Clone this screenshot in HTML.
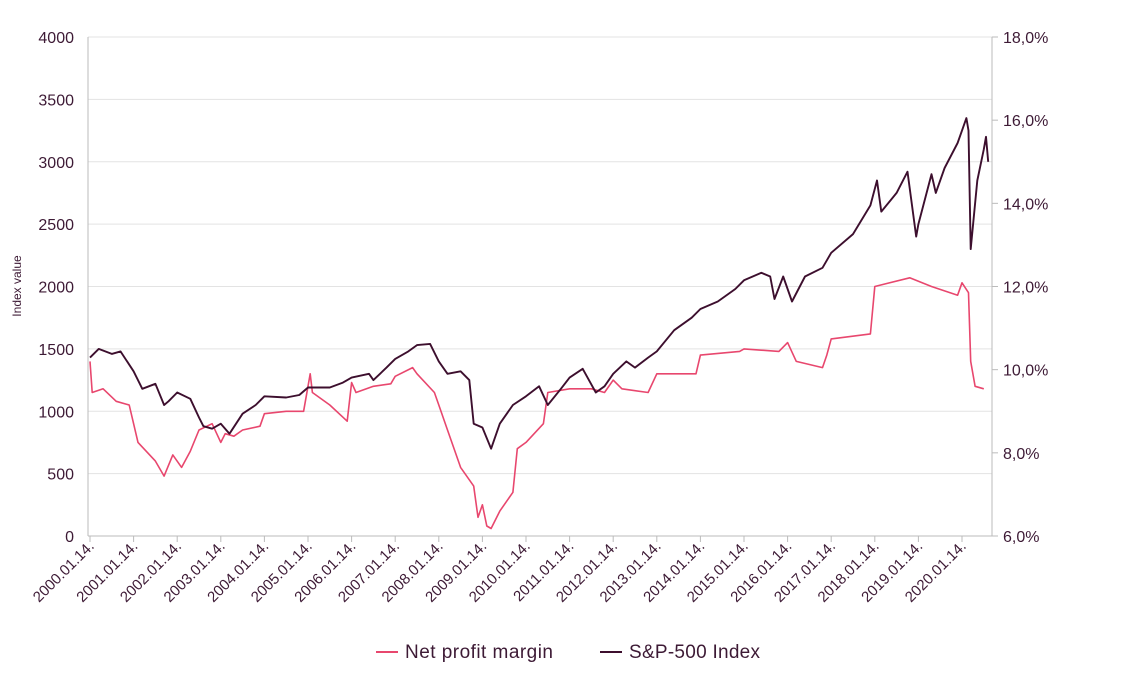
<!DOCTYPE html>
<html><head><meta charset="utf-8"><style>
body{margin:0;background:#fff;}
svg{display:block;font-family:"Liberation Sans",sans-serif;}
</style></head><body>
<svg id="c" width="1134" height="682"></svg>
<script>
const spDates=[2000.0,2000.2,2000.5,2000.7,2001.0,2001.2,2001.5,2001.7,2001.8,2002.0,2002.3,2002.5,2002.6,2002.8,2003.0,2003.2,2003.5,2003.8,2004.0,2004.5,2004.8,2005.0,2005.5,2005.8,2006.0,2006.4,2006.5,2006.8,2007.0,2007.3,2007.5,2007.8,2008.0,2008.2,2008.5,2008.7,2008.8,2009.0,2009.2,2009.4,2009.7,2010.0,2010.3,2010.5,2010.8,2011.0,2011.3,2011.6,2011.8,2012.0,2012.3,2012.5,2012.8,2013.0,2013.4,2013.8,2014.0,2014.4,2014.8,2015.0,2015.4,2015.6,2015.7,2015.9,2016.1,2016.4,2016.8,2017.0,2017.5,2017.9,2018.05,2018.15,2018.5,2018.75,2018.95,2019.0,2019.3,2019.4,2019.6,2019.9,2020.1,2020.15,2020.2,2020.35,2020.5,2020.55,2020.6];
const spValues=[1430,1500,1460,1480,1320,1180,1220,1050,1080,1150,1100,950,880,860,900,820,980,1050,1120,1110,1130,1190,1190,1230,1270,1300,1250,1350,1420,1480,1530,1540,1400,1300,1320,1250,900,870,700,900,1050,1120,1200,1050,1180,1270,1340,1150,1200,1300,1400,1350,1430,1480,1650,1750,1820,1880,1980,2050,2110,2080,1900,2080,1880,2080,2150,2270,2420,2650,2850,2600,2750,2920,2400,2500,2900,2750,2950,3150,3350,3250,2300,2850,3100,3200,3000];
const npDates=[2000.0,2000.05,2000.3,2000.6,2000.9,2001.0,2001.1,2001.5,2001.7,2001.9,2002.1,2002.3,2002.5,2002.8,2003.0,2003.1,2003.3,2003.5,2003.9,2004.0,2004.5,2004.9,2005.05,2005.1,2005.5,2005.9,2006.0,2006.1,2006.5,2006.9,2007.0,2007.4,2007.5,2007.9,2008.0,2008.2,2008.5,2008.8,2008.9,2009.0,2009.1,2009.2,2009.4,2009.7,2009.8,2010.0,2010.4,2010.5,2011.0,2011.5,2011.8,2012.0,2012.2,2012.8,2013.0,2013.9,2014.0,2014.9,2015.0,2015.8,2016.0,2016.2,2016.8,2016.9,2017.0,2017.9,2018.0,2018.8,2019.3,2019.9,2020.0,2020.15,2020.2,2020.3,2020.5];
const npValues=[10.2,9.45,9.54,9.24,9.15,8.7,8.25,7.8,7.44,7.95,7.65,8.04,8.55,8.7,8.25,8.46,8.4,8.55,8.64,8.94,9.0,9.0,9.9,9.45,9.15,8.76,9.69,9.45,9.6,9.66,9.84,10.05,9.9,9.45,9.15,8.55,7.65,7.2,6.45,6.75,6.24,6.18,6.6,7.05,8.1,8.25,8.7,9.45,9.54,9.54,9.45,9.75,9.54,9.45,9.9,9.9,10.35,10.44,10.5,10.44,10.65,10.2,10.05,10.35,10.74,10.86,12.0,12.21,12.0,11.79,12.09,11.85,10.2,9.6,9.54];
const leftTicks=[0,500,1000,1500,2000,2500,3000,3500,4000];
const rightTicks=[6,8,10,12,14,16,18];
const years=[2000,2001,2002,2003,2004,2005,2006,2007,2008,2009,2010,2011,2012,2013,2014,2015,2016,2017,2018,2019,2020];

const L=88,R=992,T=37,B=536;
const x=d=>90+(d-2000)*43.6;
const yL=v=>B-(v/4000)*(B-T);
const yR=v=>B-((v-6)/12)*(B-T);
const svg=document.getElementById('c');
const NS='http://www.w3.org/2000/svg';
function mk(t,a,p){const e=document.createElementNS(NS,t);for(const k in a)e.setAttribute(k,a[k]);(p||svg).appendChild(e);return e;}
const tc='#3d1a35';
leftTicks.forEach(v=>{
  const g=mk('line',{x1:L,x2:R,y1:yL(v),y2:yL(v),stroke:'#e3e3e3','stroke-width':1});
  
  
  const t=mk('text',{x:74,y:yL(v)+6,'text-anchor':'end','font-size':16,fill:tc});
  t.textContent=v;
  
  
});
rightTicks.forEach(v=>{
  const k=mk('line',{x1:R,x2:R+6,y1:yR(v),y2:yR(v),stroke:'#bbb'});
  
  
  const t=mk('text',{x:1003,y:yR(v)+6,'font-size':16,fill:tc});
  t.textContent=v.toFixed(1).replace('.',',')+'%';
  
  
});
mk('line',{x1:L,x2:L,y1:T,y2:B,stroke:'#bbb'});
mk('line',{x1:R,x2:R,y1:T,y2:B,stroke:'#bbb'});
mk('line',{x1:L,x2:R,y1:B,y2:B,stroke:'#bbb'});
years.forEach(yv=>{
  const xx=x(yv);
  const k=mk('line',{x1:xx,x2:xx,y1:B,y2:B+6,stroke:'#bbb'});
  
  
  const t=mk('text',{x:xx+5,y:B+11,'text-anchor':'end','font-size':15,fill:tc,transform:`rotate(-45 ${xx+5} ${B+11})`});
  t.textContent=yv+'.01.14.';
  
  
});
const yt=mk('text',{x:21,y:286,'text-anchor':'middle','font-size':12,fill:tc,transform:'rotate(-90 21 286)'});
yt.textContent='Index value';



const np=mk('path',{d:npDates.map((d,i)=>(i?'L':'M')+x(d).toFixed(1)+','+yR(npValues[i]).toFixed(1)).join(''),fill:'none',stroke:'#e8476e','stroke-width':1.6,'stroke-linejoin':'round'});


const sp=mk('path',{d:spDates.map((d,i)=>(i?'L':'M')+x(d).toFixed(1)+','+yL(spValues[i]).toFixed(1)).join(''),fill:'none',stroke:'#3d0f2e','stroke-width':1.9,'stroke-linejoin':'round'});



const l1=mk('line',{x1:376,x2:398,y1:652,y2:652,stroke:'#e8476e','stroke-width':2});

const t1=mk('text',{x:405,y:658,'font-size':19,fill:tc,textLength:148});t1.textContent='Net profit margin';


const l2=mk('line',{x1:600,x2:622,y1:652,y2:652,stroke:'#3d0f2e','stroke-width':2});

const t2=mk('text',{x:629,y:658,'font-size':19,fill:tc,textLength:131});t2.textContent='S&P-500 Index';


</script>
</body></html>
